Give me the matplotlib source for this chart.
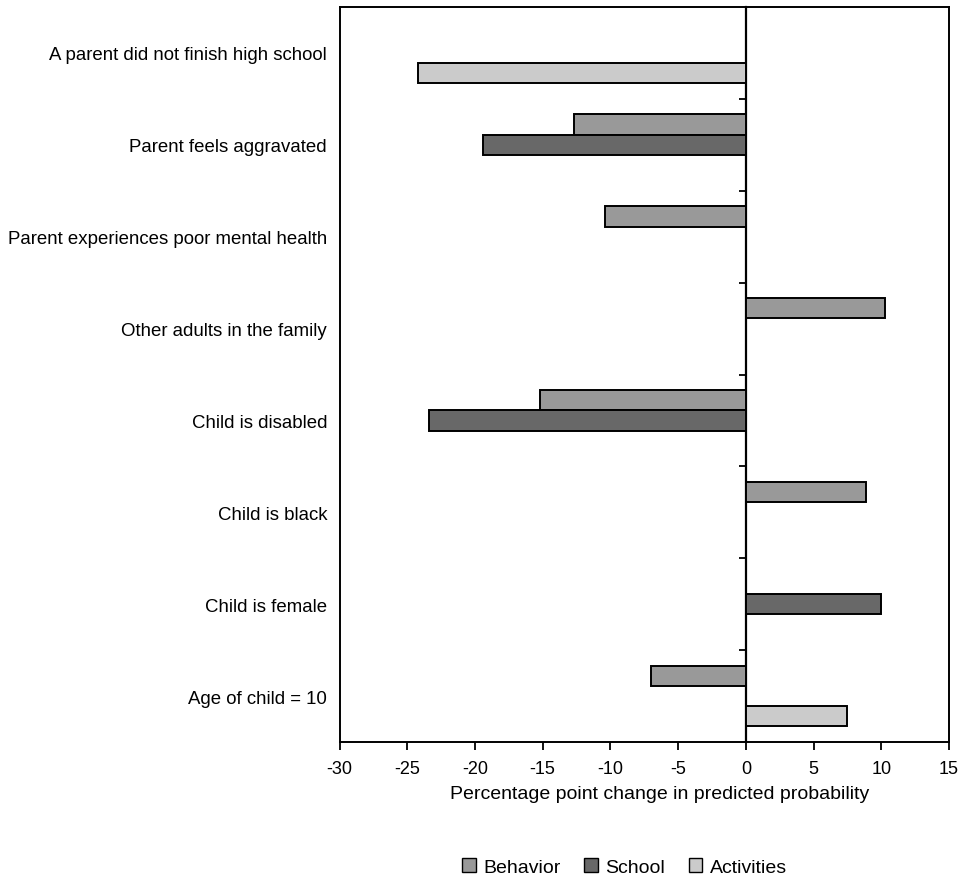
import matplotlib
matplotlib.use("Agg")
import matplotlib.pyplot as plt
import numpy as np
from matplotlib.patches import Patch

plt.rcParams['font.family'] = ['Liberation Sans', 'DejaVu Sans']

categories = [
    "A parent did not finish high school",
    "Parent feels aggravated",
    "Parent experiences poor mental health",
    "Other adults in the family",
    "Child is disabled",
    "Child is black",
    "Child is female",
    "Age of child = 10",
]
series_names = ["Behavior", "School", "Activities"]
behavior = [np.nan, -12.7, -10.4, 10.3, -15.2, 8.9, np.nan, -7.0]
school = [np.nan, -19.4, np.nan, np.nan, -23.4, np.nan, 10.0, np.nan]
activities = [-24.2, np.nan, np.nan, np.nan, np.nan, np.nan, np.nan, 7.5]
x_ticks = [-30, -25, -20, -15, -10, -5, 0, 5, 10, 15]

colors = ["#999999", "#686868", "#cbcbcb"]

fig = plt.figure(figsize=(9.64, 8.79), dpi=100)
ax = fig.add_axes([0.3522, 0.1547, 0.6322, 0.8362])

n = len(categories)
centers = np.arange(n) + 0.5
h = 0.22
offsets = [-h, 0.0, h]
for vals, off, col in zip([behavior, school, activities], offsets, colors):
    v = np.array(vals, dtype=float)
    m = ~np.isnan(v)
    ax.barh(centers[m] + off, v[m], height=h, color=col,
            edgecolor="black", linewidth=1.4)

ax.set_xlim(-30, 15)
ax.set_ylim(n, 0)
ax.set_xticks(x_ticks)
ax.set_xticklabels([str(t) for t in x_ticks], fontsize=13)
ax.tick_params(axis='x', direction='out', length=6, width=1.3, pad=7)
ax.set_yticks(centers)
ax.set_yticklabels(categories, fontsize=13.4)
ax.tick_params(axis='y', length=0, pad=9)
for s in ax.spines.values():
    s.set_linewidth(1.4)

# zero line with category boundary ticks
sec = ax.secondary_yaxis(location=30 / 45)
sec.set_yticks(np.arange(1, n))
sec.set_yticklabels([])
sec.tick_params(direction='in', length=5, width=1.3)
for s in sec.spines.values():
    s.set_linewidth(1.6)

fig.text(0.684, 0.0956, "Percentage point change in predicted probability",
         ha='center', va='center', fontsize=14)

handles = [Patch(facecolor=c, edgecolor='black', linewidth=1) for c in colors]
fig.legend(handles, series_names, loc='center', bbox_to_anchor=(0.648, 0.0125),
           ncol=3, frameon=False, fontsize=14, handlelength=0.7,
           handleheight=0.7, handletextpad=0.4, columnspacing=1.2)

fig.savefig("out.png", dpi=100)
